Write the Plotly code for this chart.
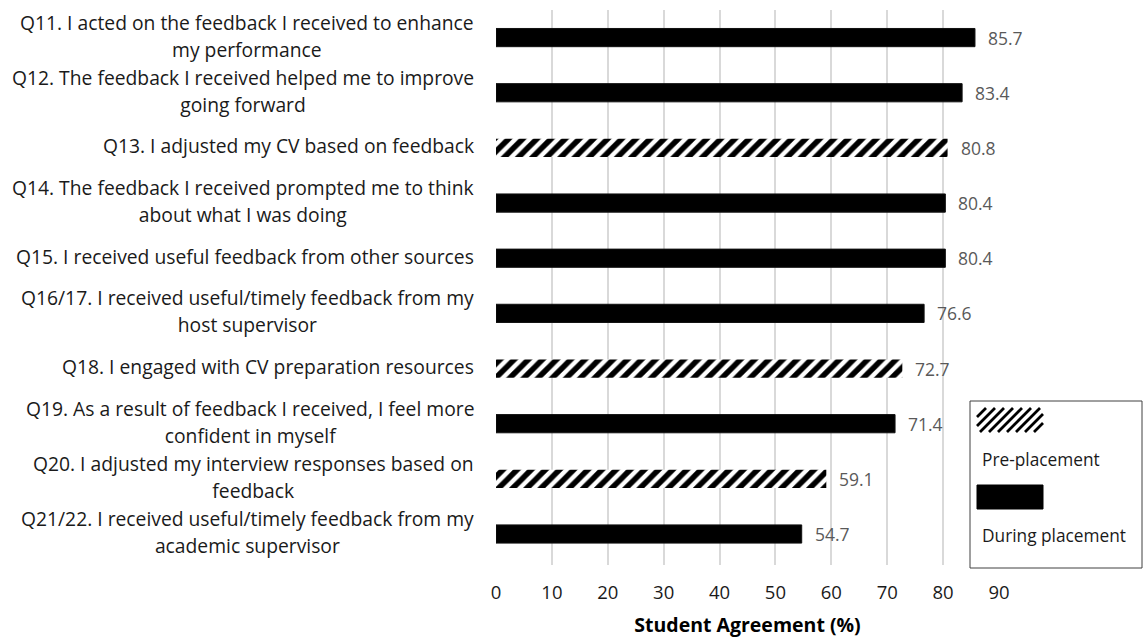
import plotly.graph_objects as go

# Survey items, top to bottom
questions = [
    "Q11. I acted on the feedback I received to enhance<br>my performance",
    "Q12. The feedback I received helped me to improve<br>going forward",
    "Q13. I adjusted my CV based on feedback",
    "Q14. The feedback I received prompted me to think<br>about what I was doing",
    "Q15. I received useful feedback from other sources",
    "Q16/17. I received useful/timely feedback from my<br>host supervisor",
    "Q18. I engaged with CV preparation resources",
    "Q19. As a result of feedback I received, I feel more<br>confident in myself",
    "Q20. I adjusted my interview responses based on<br>feedback",
    "Q21/22. I received useful/timely feedback from my<br>academic supervisor",
]
agreement = [85.7, 83.4, 80.8, 80.4, 80.4, 76.6, 72.7, 71.4, 59.1, 54.7]
phase = ["During", "During", "Pre", "During", "During",
         "During", "Pre", "During", "Pre", "During"]

x_ticks = [0, 10, 20, 30, 40, 50, 60, 70, 80, 90]
legend_labels = ["Pre-placement", "During placement"]

FONT = "Open Sans"
W, H = 1143, 641
M_L, M_R, M_T, M_B = 496, 144, 10, 76
PW, PH = W - M_L - M_R, H - M_T - M_B


def px_x(x):
    return (x - M_L) / PW


def px_y(y):
    return (H - M_B - y) / PH


fig = go.Figure()

for key, name in zip(["Pre", "During"], legend_labels):
    ys = [q for q, p in zip(questions, phase) if p == key]
    xs = [v for v, p in zip(agreement, phase) if p == key]
    if key == "Pre":
        marker = dict(color="white", line=dict(width=0),
                      pattern=dict(shape="/", fgcolor="#000000", bgcolor="white",
                                   fgopacity=1, size=10, solidity=0.55))
    else:
        marker = dict(color="black", line=dict(color="#111111", width=1))
    fig.add_trace(go.Bar(x=xs, y=ys, orientation="h", name=name,
                         marker=marker, width=0.33, opacity=1,
                         showlegend=False))

annotations = []
# category labels: right-aligned block, lines centred on each other
for q in questions:
    annotations.append(dict(
        x=0, xref="paper", y=q, yref="y", xanchor="right", yanchor="middle",
        xshift=-20, yshift=2, align="center", showarrow=False,
        text=f'<span style="font-size:19.3px">{q}</span>',
        font=dict(family=FONT, size=20.5, color="#1a1a1a")))

# value labels
for q, v in zip(questions, agreement):
    annotations.append(dict(
        x=v, xref="x", y=q, yref="y", xanchor="left", yanchor="middle",
        xshift=11, showarrow=False, text=f"{v:.1f}",
        font=dict(family=FONT, size=17.5, color="#595959")))

# legend box contents
annotations.append(dict(x=px_x(980), y=px_y(460), xref="paper", yref="paper",
                        xanchor="left", yanchor="middle", showarrow=False,
                        text=legend_labels[0],
                        font=dict(family=FONT, size=17.3, color="#1a1a1a")))
annotations.append(dict(x=px_x(980), y=px_y(535), xref="paper", yref="paper",
                        xanchor="left", yanchor="middle", showarrow=False,
                        text=legend_labels[1],
                        font=dict(family=FONT, size=17.3, color="#1a1a1a")))

shapes = []
shapes.append(dict(type="rect", xref="paper", yref="paper",
                   x0=px_x(970), x1=px_x(1142), y0=px_y(401), y1=px_y(568),
                   fillcolor="white", line=dict(color="#404040", width=1),
                   layer="above"))

# hatched swatch
sx0, sx1, sy0, sy1 = 977, 1043, 408, 432
parts = []
c = sx0 + sy0
while c < sx1 + sy1:
    xa = max(sx0, c - sy1)
    xb = min(sx1, c - sy0)
    if xb > xa:
        parts.append(f"M{px_x(xa)},{px_y(c - xa)} L{px_x(xb)},{px_y(c - xb)}")
    c += 9
shapes.append(dict(type="path", xref="paper", yref="paper", path=" ".join(parts),
                   line=dict(color="black", width=2.8), layer="above"))

# solid swatch
shapes.append(dict(type="rect", xref="paper", yref="paper",
                   x0=px_x(977), x1=px_x(1043), y0=px_y(485), y1=px_y(509),
                   fillcolor="black", line=dict(color="black", width=1),
                   layer="above"))

fig.update_layout(
    width=W, height=H,
    margin=dict(l=M_L, r=M_R, t=M_T, b=M_B, pad=0),
    paper_bgcolor="white", plot_bgcolor="white",
    barmode="overlay",
    annotations=annotations,
    shapes=shapes,
    font=dict(family=FONT, color="#1a1a1a"),
    xaxis=dict(range=[0, 90], tickvals=x_ticks, showgrid=True,
               gridcolor="#d9d9d9", gridwidth=1.5, zeroline=False,
               showline=False, ticks="", ticklabelstandoff=14,
               automargin=False,
               tickfont=dict(family=FONT, size=18.5, color="#1a1a1a"),
               title=dict(text="<b>Student Agreement (%)</b>", standoff=15,
                          font=dict(family=FONT, size=19.5, color="#000000"))),
    yaxis=dict(categoryorder="array", categoryarray=questions,
               autorange="reversed", showticklabels=False, showgrid=False,
               zeroline=False, showline=False, ticks="", automargin=False),
)

fig.write_html("out.html")
